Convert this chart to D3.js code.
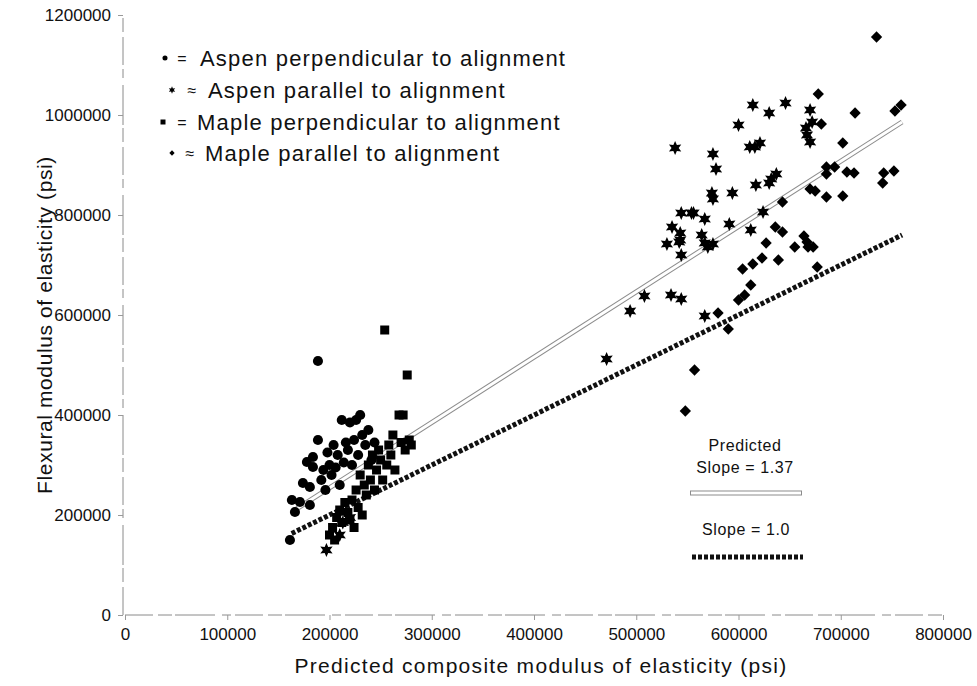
<!DOCTYPE html>
<html>
<head>
<meta charset="utf-8">
<script src="https://cdn.jsdelivr.net/npm/d3@7"></script>
<style>
  body { margin: 0; background: #fff; }
  text { font-family: "Liberation Sans", Arial, sans-serif; fill: #111; }
</style>
</head>
<body>
<div id="chart"></div>
<script>
// tick values
const xTicks = [0, 100000, 200000, 300000, 400000, 500000, 600000, 700000, 800000];
const yTicks = [0, 200000, 400000, 600000, 800000, 1000000, 1200000];

// [predicted, measured] psi
const aspenPerp = [
  [161300,150000],[163200,230000],[166200,206000],[171100,226000],[174000,264000],
  [180800,256000],[180800,220000],[177900,306000],[183800,316000],[183800,296000],
  [188700,350000],[188700,508000],[192000,270000],[194000,290000],[196000,250000],
  [198000,325000],[200000,300000],[202000,280000],[204000,340000],[206000,295000],
  [208000,320000],[210000,260000],[212000,390000],[214000,305000],[216000,345000],
  [218000,330000],[220000,385000],[222000,300000],[224000,350000],[226000,390000],
  [228000,320000],[230000,400000],[232000,360000],[235000,340000],[238000,370000],
  [241000,310000],[244000,345000]
];
const aspenPar = [
  [197000,130000],[210000,160000],[213000,185000],[216000,205000],[220000,195000],
  [614000,1020000],[630000,1004000],[646000,1024000],[600000,980000],[670000,1010000],
  [672000,986000],[666000,974000],[667000,960000],[670000,946000],[611000,936000],
  [616000,936000],[621000,944000],[575000,922000],[578000,892000],[637000,882000],
  [632000,872000],[630000,864000],[617000,860000],[594000,844000],[574000,844000],
  [575000,832000],[556000,804000],[567000,792000],[624000,806000],[591000,782000],
  [612000,770000],[564000,760000],[567000,744000],[570000,736000],[575000,742000],
  [538000,934000],[544000,804000],[554000,804000],[535000,776000],[543000,764000],
  [543000,750000],[530000,742000],[542000,746000],[544000,720000],[508000,638000],
  [494000,608000],[534000,640000],[544000,632000],[567000,598000],[471000,512000]
];
const maplePerp = [
  [200000,160000],[203000,175000],[205000,150000],[207000,195000],[210000,210000],
  [212000,185000],[215000,225000],[218000,205000],[220000,190000],[222000,230000],
  [224000,175000],[226000,250000],[228000,215000],[230000,280000],[232000,200000],
  [234000,260000],[236000,240000],[238000,300000],[240000,270000],[242000,320000],
  [244000,250000],[246000,290000],[248000,330000],[250000,310000],[252000,270000],
  [254000,570000],[256000,300000],[258000,340000],[260000,320000],[262000,360000],
  [264000,290000],[268000,400000],[270000,345000],[272000,400000],[274000,330000],
  [276000,480000],[278000,350000],[280000,340000]
];
const maplePar = [
  [735000,1156000],[678000,1042000],[714000,1004000],[753000,1008000],[759000,1020000],
  [681000,982000],[702000,944000],[686000,896000],[694000,896000],[686000,882000],
  [706000,886000],[713000,884000],[742000,884000],[752000,888000],[741000,864000],
  [670000,852000],[675000,848000],[686000,836000],[702000,838000],[643000,826000],
  [636000,776000],[643000,766000],[627000,744000],[655000,736000],[664000,758000],
  [667000,746000],[668000,736000],[673000,736000],[639000,710000],[623000,714000],
  [614000,702000],[604000,692000],[677000,696000],[580000,604000],[557000,490000],
  [548000,408000],[600000,630000],[612000,660000],[590000,572000],[606000,640000]
];

// lines: predicted fit (slope 1.37 label) and 1:1 line
const fitLine = [[163000, 206000], [760000, 986000]];
const oneLine = [[163000, 163000], [760000, 760000]];

const W = 977, H = 686;
const svg = d3.select("#chart").append("svg").attr("width", W).attr("height", H);

const x = d3.scaleLinear().domain([0, 800000]).range([125, 943]);
const y = d3.scaleLinear().domain([0, 1200000]).range([615, 15]);

// axes (faint, broken like the scan)
const yAxis = svg.append("g")
  .attr("transform", "translate(123,0)")
  .call(d3.axisLeft(y).tickValues(yTicks).tickFormat(d3.format("d")).tickSize(5).tickSizeOuter(0).tickPadding(7));
const xAxis = svg.append("g")
  .attr("transform", "translate(0,615)")
  .call(d3.axisBottom(x).tickValues(xTicks).tickFormat(d3.format("d")).tickSize(5).tickSizeOuter(0).tickPadding(8));

svg.selectAll(".domain")
  .attr("stroke", "#8a8a8a")
  .attr("stroke-width", 1)
  .attr("stroke-dasharray", "28,5,14,3,40,7,9,4");
svg.selectAll(".tick line").attr("stroke", "#999");
svg.selectAll(".tick text")
  .style("font-size", "17px")
  .style("font-family", "'Liberation Sans', Arial, sans-serif")
  .attr("fill", "#111");
xAxis.select(".domain").attr("d", `M${x(0)},0H945`);
yAxis.select(".domain").attr("d", `M0,${y(0)}V${y(1200000)}`);

// titles
svg.append("text")
  .attr("transform", `translate(52,325) rotate(-90)`)
  .attr("text-anchor", "middle")
  .style("font-size", "21px")
  .style("letter-spacing", "0.6px")
  .text("Flexural modulus of elasticity (psi)");
svg.append("text")
  .attr("x", 541).attr("y", 673)
  .attr("text-anchor", "middle")
  .style("font-size", "21px")
  .style("letter-spacing", "1.3px")
  .text("Predicted composite modulus of elasticity (psi)");

// reference lines
const line = d3.line().x(d => x(d[0])).y(d => y(d[1]));
svg.append("path").attr("d", line(fitLine))
  .attr("stroke", "#8c8c8c").attr("stroke-width", 5).attr("fill", "none");
svg.append("path").attr("d", line(fitLine))
  .attr("stroke", "#fff").attr("stroke-width", 3).attr("fill", "none");
svg.append("path").attr("d", line(oneLine))
  .attr("stroke", "#111").attr("stroke-width", 5).attr("stroke-dasharray", "4,2").attr("fill", "none");

// six-pointed star for the aspen parallel points
const star6 = {
  draw(ctx, size) {
    const r = Math.sqrt(size) * 0.75, ri = r * 0.5;
    for (let i = 0; i < 12; i++) {
      const a = i * Math.PI / 6 - Math.PI / 2;
      const rr = i % 2 ? ri : r;
      if (i) ctx.lineTo(rr * Math.cos(a), rr * Math.sin(a));
      else ctx.moveTo(rr * Math.cos(a), rr * Math.sin(a));
    }
    ctx.closePath();
  }
};

const series = [
  { data: aspenPerp, type: d3.symbolCircle, size: 80, rot: 0 },
  { data: maplePerp, type: d3.symbolSquare, size: 81, rot: 0 },
  { data: aspenPar, type: star6, size: 90, rot: 0 },
  { data: maplePar, type: d3.symbolSquare, size: 64, rot: 45 }
];

series.forEach(s => {
  svg.append("g").selectAll("path")
    .data(s.data)
    .enter()
    .append("path")
    .attr("d", d3.symbol().type(s.type).size(s.size))
    .attr("transform", d => `translate(${x(d[0])},${y(d[1])}) rotate(${s.rot})`)
    .attr("fill", "#000");
});

// legend
const legendRows = [
  { label: "Aspen perpendicular to alignment", eq: "=", type: d3.symbolCircle, size: 20, rot: 0, sx: 165, ex: 182, tx: 200, yy: 58 },
  { label: "Aspen parallel to alignment", eq: "≈", type: star6, size: 24, rot: 0, sx: 172, ex: 192, tx: 208, yy: 90 },
  { label: "Maple perpendicular to alignment", eq: "=", type: d3.symbolSquare, size: 25, rot: 0, sx: 163, ex: 182, tx: 197, yy: 122 },
  { label: "Maple parallel to alignment", eq: "≈", type: d3.symbolSquare, size: 14, rot: 45, sx: 172, ex: 190, tx: 205, yy: 153 }
];
const legend = svg.append("g");
legendRows.forEach(r => {
  legend.append("path")
    .attr("d", d3.symbol().type(r.type).size(r.size))
    .attr("transform", `translate(${r.sx},${r.yy}) rotate(${r.rot})`)
    .attr("fill", "#000");
  legend.append("text")
    .attr("x", r.ex).attr("y", r.yy + 6)
    .attr("text-anchor", "middle")
    .style("font-size", "16px")
    .text(r.eq);
  legend.append("text")
    .attr("x", r.tx).attr("y", r.yy + 8)
    .style("font-size", "22px")
    .style("letter-spacing", "1.2px")
    .text(r.label);
});

// slope key
const key = svg.append("g");
key.append("text").attr("x", 745).attr("y", 451).attr("text-anchor", "middle")
  .style("font-size", "16px").style("letter-spacing", "0.6px").text("Predicted");
key.append("text").attr("x", 745).attr("y", 473).attr("text-anchor", "middle")
  .style("font-size", "16px").style("letter-spacing", "0.6px").text("Slope = 1.37");
key.append("line").attr("x1", 690).attr("x2", 802).attr("y1", 493).attr("y2", 493)
  .attr("stroke", "#8c8c8c").attr("stroke-width", 5);
key.append("line").attr("x1", 691).attr("x2", 801).attr("y1", 493).attr("y2", 493)
  .attr("stroke", "#fff").attr("stroke-width", 3);
key.append("text").attr("x", 746).attr("y", 535).attr("text-anchor", "middle")
  .style("font-size", "16px").style("letter-spacing", "0.6px").text("Slope = 1.0");
key.append("line").attr("x1", 692).attr("x2", 803).attr("y1", 557).attr("y2", 557)
  .attr("stroke", "#111").attr("stroke-width", 5).attr("stroke-dasharray", "4,2");
</script>
</body>
</html>
